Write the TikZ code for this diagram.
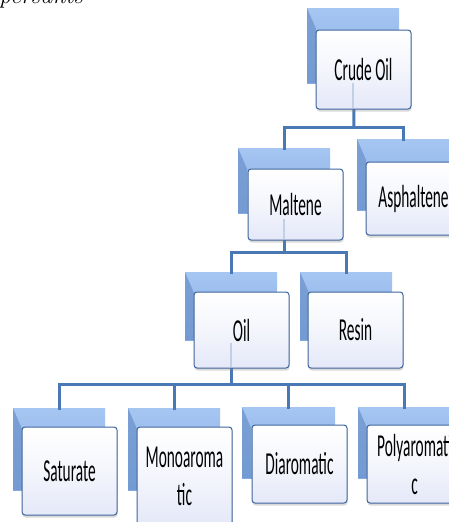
\documentclass[tikz,border=0pt]{standalone}
\usepackage{fontspec}
\setmainfont{Carlito}
\usetikzlibrary{shadows}
\definecolor{backtop}{HTML}{A6C6F2}
\definecolor{backbot}{HTML}{86ADE4}
\definecolor{bevelc}{HTML}{6F96CE}
\definecolor{frontline}{HTML}{3F659C}
\definecolor{frontbot}{HTML}{E4E8F8}
\definecolor{connc}{HTML}{4A78B5}
\tikzset{
  backbox/.style={rectangle, inner sep=0pt, outer sep=0pt, anchor=north west,
    top color=backtop, bottom color=backbot, draw=none},
  bevel/.style={fill=bevelc, fill opacity=0.8},
  frontbox/.style={rectangle, rounded corners=3pt, inner sep=0pt, outer sep=0pt,
    anchor=north west, draw=frontline, line width=1pt,
    top color=white, bottom color=frontbot, middle color=white!60!frontbot,
    text=black,
    drop shadow={opacity=0.3, shadow xshift=0.5pt, shadow yshift=-2.5pt},
    font=\fontsize{32}{38}\selectfont, align=center},
  conn/.style={draw=connc, line width=3pt, line cap=rect},
  ghost/.style={draw=connc!35, line width=2pt},
}
\newcommand{\sq}[1]{\scalebox{0.48}[1]{#1}}
\newcommand{\backb}[5]{%
  \node[backbox, minimum width=#4, minimum height=#5] (#1) at (#2,#3) {};
  \fill[bevel] (#1.north west) -- ++(9,21) |- (#1.south west) -- cycle;}
\begin{document}
\begin{tikzpicture}[x=1pt,y=-1pt]
\useasboundingbox (0,0) rectangle (449,522);
\node[font=\fontsize{24}{26}\selectfont\itshape, anchor=base west, inner sep=0pt] (cap) at (-1,3) {\fontspec{Latin Modern Roman}persants};
% back boxes
\backb{crudeB}{307}{8}{92}{75}
\backb{maltB}{238}{148}{92}{65}
\backb{asphB}{357}{139}{92}{71}
\backb{oilB}{185}{272}{92}{68}
\backb{resinB}{300}{272}{92}{68}
\backb{satB}{13}{408}{92}{82}
\backb{monoB}{128}{408}{92}{82}
\backb{diaB}{242}{407}{93}{71}
\backb{polyB}{358}{407}{92}{71}
% junctions
\coordinate (j1) at (354,127);
\coordinate (j2) at (284,252);
\coordinate (j3) at (231,384);
% connectors
\draw[conn] (crudeB.center) -- (j1);
\draw[conn] (maltB.north) |- (j1) -| (asphB.north);
\draw[conn] (maltB.center) -- (j2);
\draw[conn] (oilB.north) |- (j2) -| (resinB.north);
\draw[conn] (oilB.center) -- (j3);
\draw[conn] (satB.north) |- (j3) -| (polyB.north);
\draw[conn] (monoB.north) -- (monoB.north |- j3);
\draw[conn] (diaB.north) -- (diaB.north |- j3);
% front boxes
\node[frontbox, minimum width=95, minimum height=79] (crude) at (316,30) {\sq{Crude Oil}};
\node[frontbox, minimum width=95, minimum height=71] (malt) at (248,169) {\sq{Maltene}};
\node[frontbox, minimum width=95, minimum height=73] (asph) at (366,162) {\sq{Asphaltene}};
\node[frontbox, minimum width=95, minimum height=76] (oil) at (194,292) {\sq{Oil}};
\node[frontbox, minimum width=95, minimum height=76] (resin) at (308,292) {\sq{Resin}};
\node[frontbox, minimum width=95, minimum height=88] (sat) at (22,427) {\sq{Saturate}};
\node[frontbox, minimum width=95, minimum height=98] (mono) at (137,427) {\sq{Monoaroma}\\\sq{tic}};
\node[frontbox, minimum width=95, minimum height=78] (dia) at (252,425) {\sq{Diaromatic}};
\node[frontbox, minimum width=95, minimum height=78] (poly) at (367,425) {\sq{Polyaromati}\\\sq{c}};
% faint see-through connector traces inside the front boxes
\draw[ghost] ([yshift=1pt]crude.south -| crudeB.center) -- ++(0,-25);
\draw[ghost] ([yshift=1pt]malt.south -| maltB.center) -- ++(0,-20);
\draw[ghost] ([yshift=1pt]oil.south -| oilB.center) -- ++(0,-24);
\end{tikzpicture}
\end{document}
